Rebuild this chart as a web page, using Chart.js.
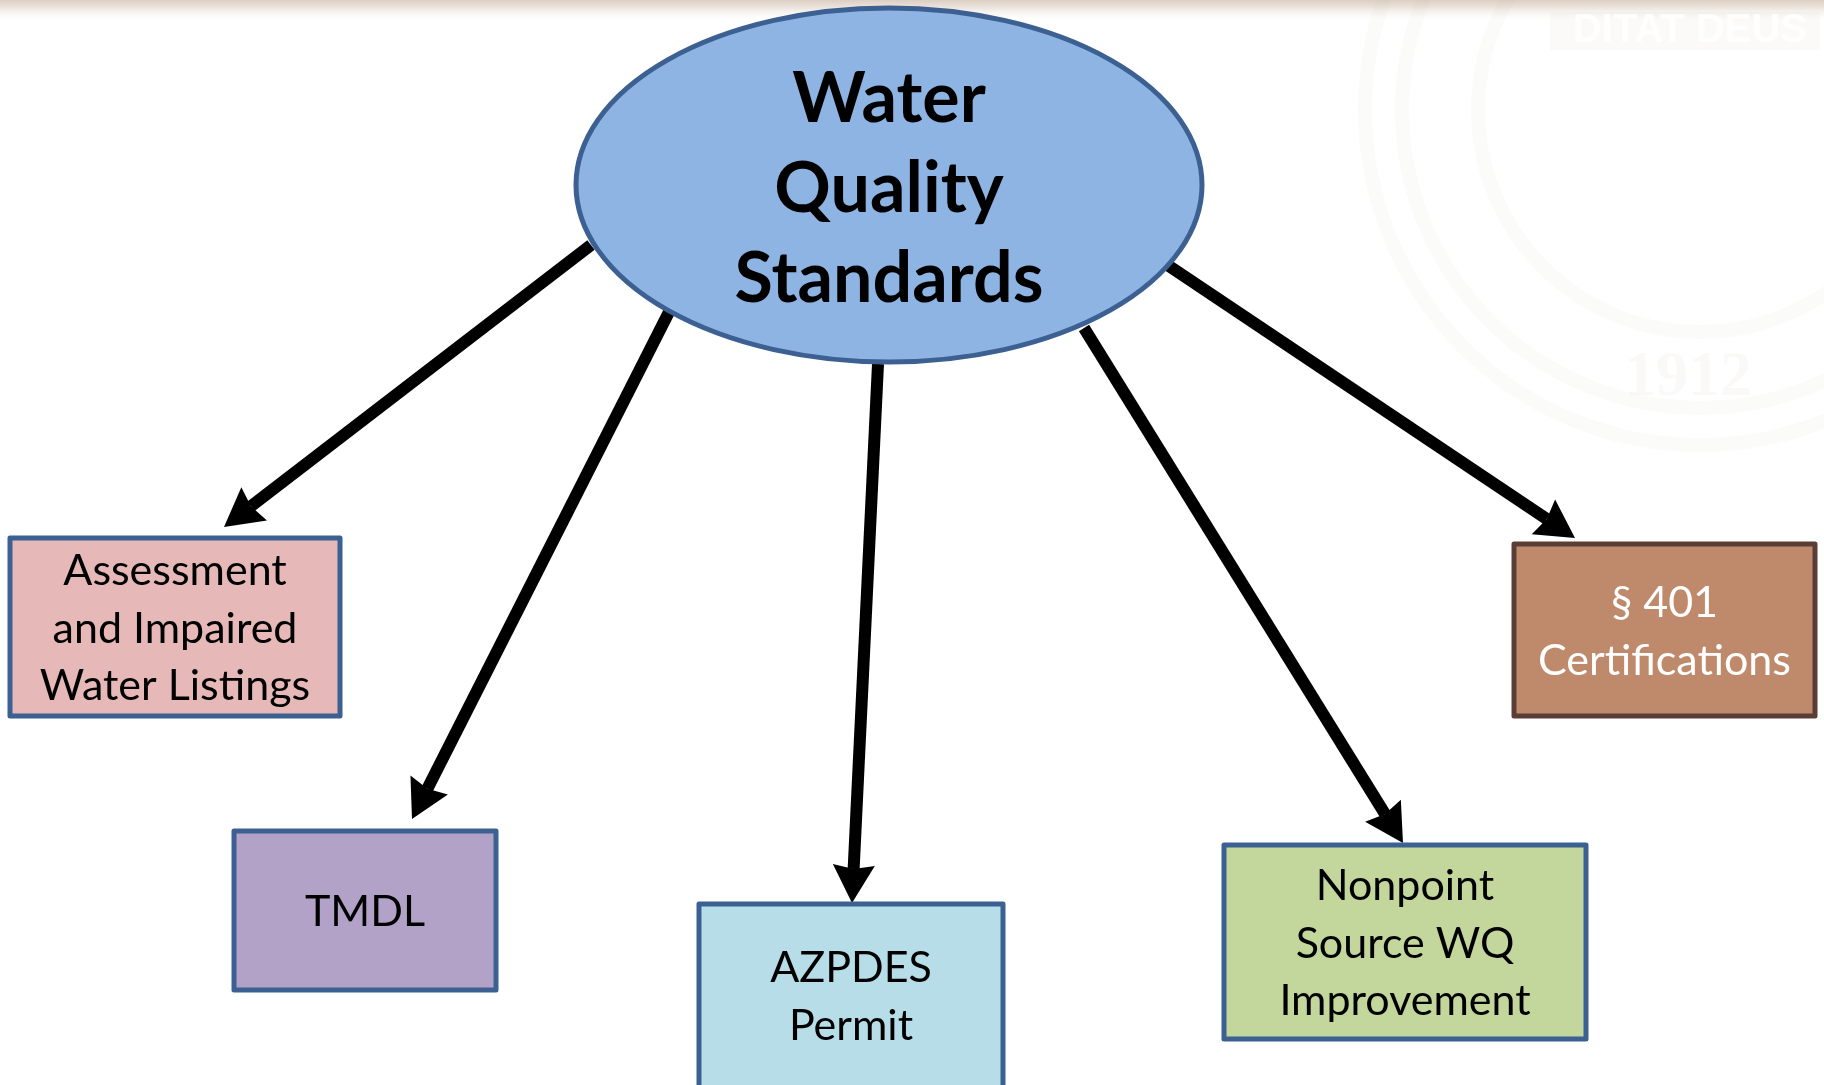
<!DOCTYPE html>
<html>
<head>
<meta charset="utf-8">
<script src="https://cdn.jsdelivr.net/npm/chart.js@4.4.1/dist/chart.umd.min.js"></script>
<style>
  html, body { margin: 0; padding: 0; background: #ffffff; }
  #wrap { width: 1824px; height: 1085px; position: relative; }
</style>
</head>
<body>
<div id="wrap"><canvas id="diagramCanvas"></canvas></div>
<script>
// centre node
const hubLabel = ['Water', 'Quality', 'Standards'];
const hubCenter = [889, 185];
const hubRadius = [313, 177];

// outer nodes
const nodeLabels = [
    ['Assessment', 'and Impaired', 'Water Listings'],
    ['TMDL'],
    ['AZPDES', 'Permit'],
    ['Nonpoint', 'Source WQ', 'Improvement'],
    ['§ 401', 'Certifications']
];
const nodeLeft   = [10, 234, 699, 1224, 1514];
const nodeRight  = [340, 496, 1003, 1586, 1815];
const nodeTop    = [538, 831, 904, 845, 544];
const nodeBottom = [716, 990, 1092, 1039, 716];

// arrows from hub edge to box tops
const arrowStartX = [591, 669, 878, 1084, 1169];
const arrowStartY = [245, 312, 364, 328, 266];
const arrowEndX   = [224, 412, 852, 1403, 1575];
const arrowEndY   = [527, 819, 903, 843, 538];

// styling
const nodeFill   = ['#E6B9B8', '#B3A2C7', '#B7DEE8', '#C3D69B', '#BF8A6C'];
const nodeStroke = ['#3B6091', '#3B6091', '#3B6091', '#3B6091', '#5A3E36'];
const nodeText   = ['#000000', '#000000', '#000000', '#000000', '#FFFFFF'];

const canvas = document.getElementById('diagramCanvas');
const ctx = canvas.getContext('2d');

const diagramPlugin = {
    id: 'diagram',
    beforeDatasetsDraw(chart) {
        const c = chart.ctx;
        const xs = chart.scales.x, ys = chart.scales.y;
        const px = v => xs.getPixelForValue(v);
        const py = v => ys.getPixelForValue(v);

        c.save();
        // top band
        const g = c.createLinearGradient(0, py(0), 0, py(22));
        g.addColorStop(0, '#DCCFC2');
        g.addColorStop(0.35, '#ECE5DE');
        g.addColorStop(1, 'rgba(255,255,255,0)');
        c.fillStyle = g;
        c.fillRect(px(0), py(0), px(1824) - px(0), py(22) - py(0));

        // faint seal watermark
        c.strokeStyle = 'rgba(150,130,110,0.035)';
        c.lineWidth = 14;
        [335, 298, 222].forEach(r => {
            c.beginPath();
            c.arc(px(1700), py(110), px(1700 + r) - px(1700), 0, Math.PI * 2);
            c.stroke();
        });
        c.fillStyle = 'rgba(150,130,110,0.05)';
        c.font = 'bold 64px "Liberation Serif"';
        c.textAlign = 'center';
        c.textBaseline = 'middle';
        c.fillText('1912', px(1688), py(378));
        c.fillStyle = 'rgba(150,130,110,0.04)';
        c.fillRect(px(1550), py(12), px(1820) - px(1550), py(50) - py(12));
        c.fillStyle = 'rgba(255,255,255,0.9)';
        c.font = 'bold 40px "Liberation Sans Narrow", "Liberation Sans"';
        c.fillText('DITAT DEUS', px(1690), py(31));
        c.restore();

        // arrows
        c.save();
        c.fillStyle = '#000000';
        c.strokeStyle = '#000000';
        c.lineWidth = 12;
        for (let i = 0; i < arrowStartX.length; i++) {
            const x0 = px(arrowStartX[i]), y0 = py(arrowStartY[i]);
            const x1 = px(arrowEndX[i]), y1 = py(arrowEndY[i]);
            const a = Math.atan2(y1 - y0, x1 - x0);
            const len = 38, half = 21;
            const bx = x1 - Math.cos(a) * len, by = y1 - Math.sin(a) * len;
            c.beginPath();
            c.moveTo(x0, y0);
            c.lineTo(bx + Math.cos(a) * 4, by + Math.sin(a) * 4);
            c.stroke();
            c.beginPath();
            c.moveTo(x1, y1);
            c.lineTo(bx - Math.sin(a) * half, by + Math.cos(a) * half);
            c.lineTo(bx + Math.cos(a) * 4, by + Math.sin(a) * 4);
            c.lineTo(bx + Math.sin(a) * half, by - Math.cos(a) * half);
            c.closePath();
            c.fill();
        }
        c.restore();

        // hub ellipse
        c.save();
        c.beginPath();
        c.ellipse(px(hubCenter[0]), py(hubCenter[1]),
            px(hubCenter[0] + hubRadius[0]) - px(hubCenter[0]),
            py(hubCenter[1] + hubRadius[1]) - py(hubCenter[1]),
            0, 0, Math.PI * 2);
        c.fillStyle = '#8EB4E3';
        c.fill();
        c.lineWidth = 5;
        c.strokeStyle = '#3B6091';
        c.stroke();
        c.fillStyle = '#000000';
        c.font = 'bold 70px Lato';
        c.textAlign = 'center';
        c.textBaseline = 'alphabetic';
        hubLabel.forEach((t, i) => {
            c.fillText(t, px(hubCenter[0]), py(122 + i * 90));
        });
        c.restore();

        // boxes
        c.save();
        for (let i = 0; i < nodeLabels.length; i++) {
            const x0 = px(nodeLeft[i]), x1 = px(nodeRight[i]);
            const y0 = py(nodeTop[i]), y1 = py(nodeBottom[i]);
            c.fillStyle = nodeFill[i];
            c.fillRect(x0, y0, x1 - x0, y1 - y0);
            c.lineWidth = 5;
            c.lineJoin = 'round';
            c.strokeStyle = nodeStroke[i];
            c.strokeRect(x0, y0, x1 - x0, y1 - y0);
            c.fillStyle = nodeText[i];
            c.font = '43px Lato';
            c.textAlign = 'center';
            c.textBaseline = 'middle';
            const lines = nodeLabels[i];
            const step = py(57.5) - py(0);
            const cx = (x0 + x1) / 2;
            const cy = (nodeLabels[i][0] === 'AZPDES') ? py(997) : (y0 + y1) / 2 + 2;
            lines.forEach((t, k) => {
                c.fillText(t, cx, cy + (k - (lines.length - 1) / 2) * step);
            });
        }
        c.restore();
    }
};

const chart = new Chart(ctx, {
    type: 'scatter',
    data: {
        datasets: [{
            data: arrowEndX.map((x, i) => ({ x: x, y: arrowEndY[i] })),
            pointRadius: 0,
            showLine: false
        }]
    },
    options: {
        responsive: true,
        maintainAspectRatio: false,
        animation: false,
        layout: { padding: 0 },
        plugins: {
            legend: { display: false },
            tooltip: { enabled: false }
        },
        scales: {
            x: { type: 'linear', display: false, min: 0, max: 1824 },
            y: { type: 'linear', display: false, min: 0, max: 1085, reverse: true }
        }
    },
    plugins: [diagramPlugin]
});
</script>
</body>
</html>
